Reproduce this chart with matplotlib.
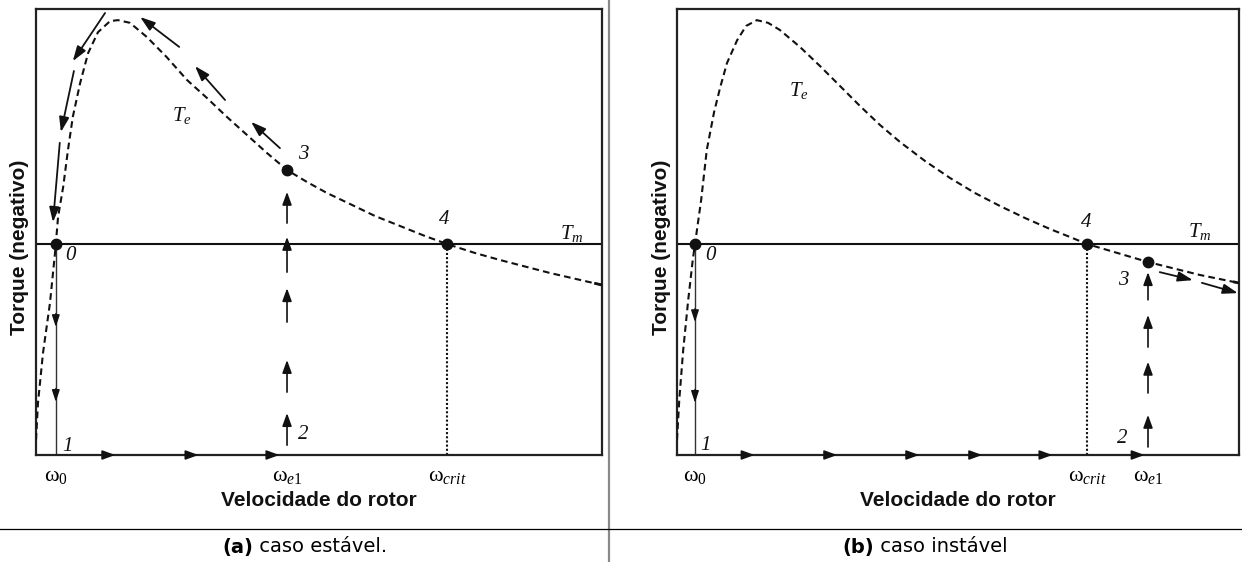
import matplotlib
matplotlib.use("Agg")
import matplotlib.pyplot as plt
from matplotlib.patches import FancyArrowPatch
from matplotlib.lines import Line2D

plt.rcParams['mathtext.fontset'] = 'custom'
plt.rcParams['mathtext.rm'] = 'Liberation Serif'
plt.rcParams['mathtext.it'] = 'Liberation Serif:italic'
plt.rcParams['mathtext.bf'] = 'Liberation Serif:bold'

# ---------------- data (speed and torque in relative units, 0-100) ----------------
# (a) stable case
A_SPEED = [0.0, 0.35, 1.24, 2.47, 3.36, 3.5, 3.9, 4.8, 5.65, 6.5, 7.8, 9.2, 10.95, 13.1,
           14.5, 16.6, 19.6, 23.1, 26.68, 30.21, 33.75, 37.28, 40.81, 44.35, 47.88, 51.41,
           55.48, 59.89, 64.31, 68.73, 72.61, 77.56, 81.98, 90.81, 100.0]
A_TORQUE = [3.4, 11.7, 22.9, 34.1, 45.3, 47.3, 53.4, 60.1, 68.4, 75.8, 83.4, 90.1, 94.8, 97.3,
            97.5, 96.9, 93.7, 89.2, 84.08, 80.04, 75.78, 71.75, 67.71, 63.9, 61.21, 58.74,
            56.28, 53.59, 51.35, 49.1, 47.31, 45.29, 43.72, 40.81, 38.12]
A_TM = 47.3
A_W0, A_WE1, A_WCRIT = 3.5, 44.35, 72.61
A_T3 = 63.9
# arrows following the trajectory along Te (tail -> head)
A_CURVE_ARROWS = [((43.1, 68.8), (38.0, 74.7)), ((33.4, 79.6), (28.1, 87.2)),
                  ((25.3, 91.5), (18.4, 98.2)), ((12.2, 99.1), (6.5, 88.3)),
                  ((6.7, 86.1), (4.4, 72.4)), ((4.2, 70.0), (3.0, 52.2))]
A_UP_TAILS = [2.2, 14.1, 29.8, 41.0, 52.0]
A_UP_HEADS = [9.4, 21.3, 37.4, 48.9, 59.0]
A_DOWN_HEADS = [28.7, 11.9]
A_AXIS_HEADS = [14.0, 28.7, 43.0]
A_LABEL_POS = {'0': (6.0, 44.8), '1': (5.5, 2.0), '2': (47.2, 4.5), '3': (47.2, 67.3),
               '4': (72.1, 52.7), 'Tm': (94.7, 49.6), 'Te': (25.8, 76.2)}

# (b) unstable case
B_SPEED = [0.0, 0.4, 1.1, 2.0, 2.8, 3.2, 4.3, 5.3, 6.6, 7.7, 8.9, 10.7, 12.3, 14.2, 16.2,
           18.3, 21.89, 25.44, 29.0, 32.56, 36.12, 39.68, 44.13, 48.58, 53.02, 57.47, 61.92,
           66.37, 69.93, 72.95, 83.81, 93.06, 100.0]
B_TORQUE = [3.4, 12.3, 23.5, 34.8, 43.7, 47.3, 57.2, 68.4, 76.9, 82.5, 87.9, 93.0, 96.2, 97.5,
            96.9, 95.3, 91.48, 87.22, 82.74, 78.25, 73.99, 70.18, 65.92, 62.11, 58.74, 55.83,
            53.14, 50.67, 48.88, 47.31, 43.27, 40.36, 38.57]
B_TM = 47.3
B_W0, B_WCRIT, B_WE1 = 3.2, 72.95, 83.81
B_T3 = 43.27
B_CURVE_ARROWS = [((85.9, 41.0), (91.8, 39.2)), ((93.4, 38.6), (99.8, 36.3))]
B_UP_TAILS = [1.8, 13.9, 24.2, 34.8]
B_UP_HEADS = [9.0, 20.9, 31.4, 41.0]
B_DOWN_HEADS = [29.8, 11.7]
B_AXIS_HEADS = [13.8, 28.5, 43.1, 54.3, 66.8, 83.2]
B_LABEL_POS = {'0': (6.0, 44.8), '1': (5.0, 2.2), '2': (79.2, 3.8), '3': (79.4, 39.2),
               '4': (72.8, 52.2), 'Tm': (93.1, 50.0), 'Te': (21.7, 81.8)}

X_LABEL = "Velocidade do rotor"
Y_LABEL = "Torque (negativo)"
CAPTIONS = [("(a)", " caso estável."), ("(b)", " caso instável")]

W, H = 1242, 562
fig = plt.figure(figsize=(W / 100, H / 100), dpi=100)
fig.patch.set_facecolor('white')

INK = '#111111'
SERIF = 'Liberation Serif'


def arrow(ax, p0, p1, lw=1.2, ms=15, hl=0.55, hw=0.2):
    ax.add_patch(FancyArrowPatch(
        p0, p1, arrowstyle=f'-|>,head_length={hl},head_width={hw}',
        mutation_scale=ms, lw=lw, color=INK, shrinkA=0, shrinkB=0,
        clip_on=False, zorder=5))


def draw_panel(ax, speed, torque, tm, w0, ticks, ticklabels, we1, wcrit, t3,
               curve_arrows, up_tails, up_heads, down_heads, axis_heads, label_pos):
    ax.set_xlim(0, 100)
    ax.set_ylim(0, 100)
    for sp in ax.spines.values():
        sp.set_linewidth(1.6)
        sp.set_color('#222222')
    ax.set_yticks([])

    # electrical torque curve Te
    ax.plot(speed, torque, color=INK, lw=1.5, ls=(0, (3.2, 2.0)), zorder=3)
    # short solid end piece of the curve at the right border
    xs = speed[-1] - 0.15 * (speed[-1] - speed[-2])
    ys = torque[-1] - 0.15 * (torque[-1] - torque[-2])
    ax.plot([xs, speed[-1]], [ys, torque[-1]], color=INK, lw=2.0, zorder=3,
            solid_capstyle='butt')
    # mechanical torque Tm
    ax.axhline(tm, color=INK, lw=1.5, zorder=2)

    # start speed: drop from 0 to 1
    ax.plot([w0, w0], [0, tm], color='#333333', lw=1.0, zorder=2)
    for h in down_heads:
        arrow(ax, (w0, h + 3), (w0, h), lw=1.0, ms=13, hl=0.55, hw=0.18)
    # critical speed
    ax.plot([wcrit, wcrit], [0, tm], color=INK, lw=1.5, ls=(0, (1, 1)), zorder=2)
    # rise from 2 to 3
    for t0, t1 in zip(up_tails, up_heads):
        arrow(ax, (we1, t0), (we1, t1), lw=1.2, ms=14, hl=0.55, hw=0.2)
    # acceleration along the speed axis
    for x in axis_heads:
        arrow(ax, (x - 2.0, 0), (x, 0), lw=1.2, ms=14, hl=0.55, hw=0.2)
    # trajectory along Te
    for p0, p1 in curve_arrows:
        arrow(ax, p0, p1, lw=1.3, ms=15, hl=0.6, hw=0.2)

    # operating points
    ax.plot([w0, wcrit, we1], [tm, tm, t3], 'o', color=INK, ms=7.5, zorder=6,
            clip_on=False)

    for key, (x, y) in label_pos.items():
        if key == 'Te':
            s = r'$T_e$'
        elif key == 'Tm':
            s = r'$T_m$'
        else:
            s = key
        ax.text(x, y, s, ha='center', va='center', fontsize=15,
                family=SERIF, style='italic', color=INK)

    ax.set_xticks(ticks)
    ax.set_xticklabels(ticklabels, fontsize=16)
    ax.tick_params(axis='x', length=0, pad=8)

    ax.text(0.5, (455 - 500) / 446, X_LABEL, transform=ax.transAxes,
            ha='center', va='center', fontsize=15, fontweight='bold',
            family='Liberation Sans', color=INK)
    ax.text(-16 / 566, (455 - 247) / 446, Y_LABEL, transform=ax.transAxes,
            ha='center', va='center', rotation=90, fontsize=15, fontweight='bold',
            family='Liberation Sans', color=INK)


W0_LBL = r'$\mathrm{ω}_{\mathit{0}}$'
WE1_LBL = r'$\mathrm{ω}_{\mathit{e1}}$'
WCRIT_LBL = r'$\mathrm{ω}_{\mathit{crit}}$'

bottom = (H - 455) / H
height = 446 / H
ax_a = fig.add_axes([36 / W, bottom, 566 / W, height])
ax_b = fig.add_axes([677 / W, bottom, 562 / W, height])

draw_panel(ax_a, A_SPEED, A_TORQUE, A_TM, A_W0,
           [A_W0, A_WE1, A_WCRIT], [W0_LBL, WE1_LBL, WCRIT_LBL],
           A_WE1, A_WCRIT, A_T3, A_CURVE_ARROWS,
           A_UP_TAILS, A_UP_HEADS, A_DOWN_HEADS, A_AXIS_HEADS, A_LABEL_POS)
draw_panel(ax_b, B_SPEED, B_TORQUE, B_TM, B_W0,
           [B_W0, B_WCRIT, B_WE1], [W0_LBL, WCRIT_LBL, WE1_LBL],
           B_WE1, B_WCRIT, B_T3, B_CURVE_ARROWS,
           B_UP_TAILS, B_UP_HEADS, B_DOWN_HEADS, B_AXIS_HEADS, B_LABEL_POS)

# table rules separating the two cells and the caption row
fig.add_artist(Line2D([609 / W, 609 / W], [0, 1], transform=fig.transFigure,
                      color='#8a8a8a', lw=1.6))
fig.add_artist(Line2D([0, 1], [(H - 529) / H] * 2, transform=fig.transFigure,
                      color='black', lw=0.9))

# captions: bold tag followed by regular text, centred in each cell
fig.canvas.draw()
renderer = fig.canvas.get_renderer()
cell_centres = [304.5, 925.5]
cap_y = (H - 547) / H
for (tag, rest), cx in zip(CAPTIONS, cell_centres):
    t1 = fig.text(0, cap_y, tag, fontsize=14, fontweight='bold',
                  family='DejaVu Sans', va='center', ha='left')
    t2 = fig.text(0, cap_y, rest, fontsize=14, family='DejaVu Sans',
                  va='center', ha='left')
    w1 = t1.get_window_extent(renderer).width
    w2 = t2.get_window_extent(renderer).width
    x0 = cx - (w1 + w2) / 2
    t1.set_x(x0 / W)
    t2.set_x((x0 + w1) / W)

fig.savefig('out.png', dpi=100, facecolor='white')
